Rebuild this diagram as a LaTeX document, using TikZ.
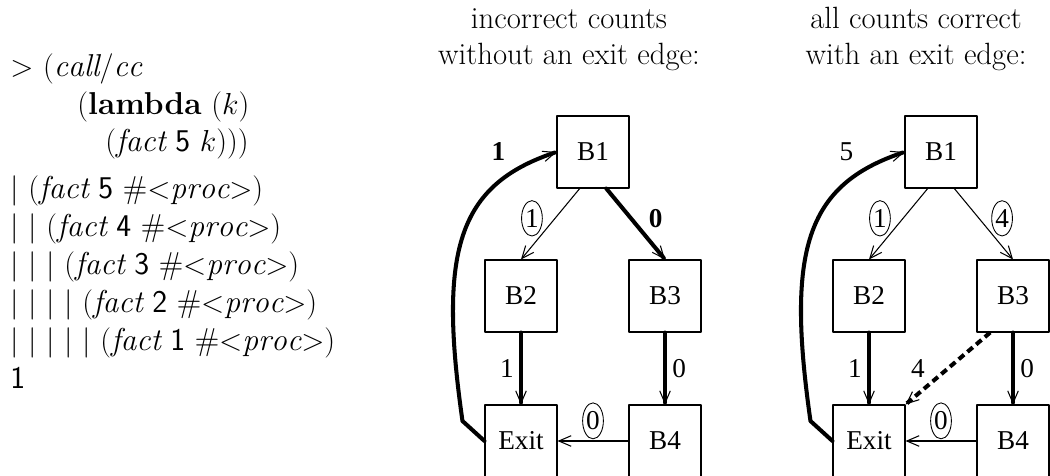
\documentclass[tikz,border=0pt]{standalone}
\usepackage{amssymb,amsmath}
\usepackage{fontspec}
\newfontfamily\timesfont{Liberation Serif}
\usetikzlibrary{arrows.meta}
\usetikzlibrary{shapes.geometric}

\begin{document}
\begin{tikzpicture}[x=0.02cm,y=-0.02cm,line cap=round,line join=round,
  >={Straight Barb[length=7pt,width=6pt,line width=0.6pt]},
  blk/.style={draw,line width=0.6pt,minimum size=1.44cm,inner sep=0pt,
    font=\timesfont\fontsize{15.5}{17}\selectfont},
  lbl/.style={inner sep=1pt,font=\timesfont\fontsize{15.5}{17}\selectfont},
  rnd/.style={lbl,draw,ellipse,inner xsep=0.3pt,inner ysep=2pt,line width=0.5pt},
  thinedge/.style={->,line width=0.6pt},
  fatedge/.style={->,line width=2.3pt},
  code/.style={anchor=base west,inner sep=0pt,font=\fontsize{18}{20}\selectfont},
  ttl/.style={anchor=base,align=center,inner sep=0pt,font=\fontsize{17.5}{21}\selectfont}]
\useasboundingbox (0,0) rectangle (1050,476);
% the trace
\node[code] (c1) at (10,77) {$>$ $(\mathit{call/cc}$};
\node[code] (c2) at (77,115) {$(\textbf{lambda}\ (k)$};
\node[code] (c3) at (105,152) {$(\mathit{fact}$ \textsf{5} $k)))$};
\node[code] (c4) at (10,198) {$|$ $(\mathit{fact}$ \textsf{5} $\#{<}\mathit{proc}{>})$};
\node[code] (c5) at (10,236) {$|$ $|$ $(\mathit{fact}$ \textsf{4} $\#{<}\mathit{proc}{>})$};
\node[code] (c6) at (10,274) {$|$ $|$ $|$ $(\mathit{fact}$ \textsf{3} $\#{<}\mathit{proc}{>})$};
\node[code] (c7) at (10,312) {$|$ $|$ $|$ $|$ $(\mathit{fact}$ \textsf{2} $\#{<}\mathit{proc}{>})$};
\node[code] (c8) at (10,350) {$|$ $|$ $|$ $|$ $|$ $(\mathit{fact}$ \textsf{1} $\#{<}\mathit{proc}{>})$};
\node[code] (c9) at (10,388) {\textsf{1}};
% titles
\node[ttl] (t1) at (569,65) {incorrect counts\\without an exit edge:};
\node[ttl] (t2) at (916,65) {all counts correct\\with an exit edge:};
% without exit edge
\node[blk] (b1) at (593,152) {B1};
\node[blk] (b2) at (521,296) {B2};
\node[blk] (b3) at (665,296) {B3};
\node[blk] (ex) at (521,441) {Exit};
\node[blk] (b4) at (665,441) {B4};
\draw[thinedge] (b1.250) -- (b2.north) node[pos=0.42,left=7pt,rnd] (n1) {1};
\draw[fatedge] (b1.290) -- (b3.north) node[pos=0.42,right=8pt,lbl] (n2) {\textbf{0}};
\draw[fatedge] (b2) -- (ex) node[midway,left=2pt,lbl] (n3) {1};
\draw[fatedge] (b3) -- (b4) node[midway,right=2pt,lbl] (n4) {0};
\draw[thinedge] (b4) -- (ex) node[midway,above=1pt,rnd] (n5) {0};
\draw[fatedge] (ex.west) -- ++(-22,-20) .. controls (438,250) and (458,185) .. (b1.west)
  node[at end,left=27pt,lbl] (n6) {\textbf{1}};
% with exit edge
\node[blk] (rb1) at (941,152) {B1};
\node[blk] (rb2) at (869,296) {B2};
\node[blk] (rb3) at (1013,296) {B3};
\node[blk] (rex) at (869,441) {Exit};
\node[blk] (rb4) at (1013,441) {B4};
\draw[thinedge] (rb1.250) -- (rb2.north) node[pos=0.42,left=7pt,rnd] (m1) {1};
\draw[thinedge] (rb1.290) -- (rb3.north) node[pos=0.42,right=7pt,rnd] (m2) {4};
\draw[fatedge] (rb2) -- (rex) node[midway,left=2pt,lbl] (m3) {1};
\draw[fatedge] (rb3) -- (rb4) node[midway,right=2pt,lbl] (m4) {0};
\draw[thinedge] (rb4) -- (rex) node[midway,above=1pt,rnd] (m5) {0};
\draw[fatedge,line cap=butt,dash pattern=on 4pt off 2.5pt] (rb3.238) -- (rex.north east)
  node[midway,left=11pt,lbl] (m6) {4};
\draw[fatedge] (rex.west) -- ++(-22,-20) .. controls (786,250) and (806,185) .. (rb1.west)
  node[at end,left=27pt,lbl] (m7) {5};
\end{tikzpicture}
\end{document}
